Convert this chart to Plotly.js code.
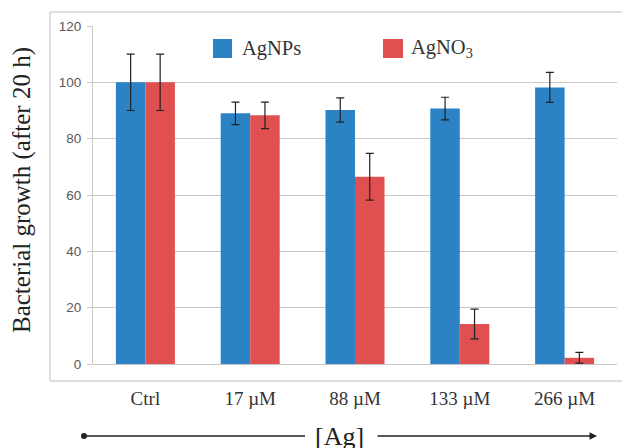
<!DOCTYPE html>
<html>
<head>
<meta charset="utf-8">
<script src="https://cdn.plot.ly/plotly-3.0.1.min.js"></script>
<style>html,body{margin:0;padding:0;background:#fff;}#chart{width:622px;height:448px;}</style>
</head>
<body>
<div id="chart"></div>
<script>
// ---- data ----
const categories = ["Ctrl", "17 µM", "88 µM", "133 µM", "266 µM"];
const agnpsValues = [100, 89, 90.2, 90.7, 98.2];
const agnpsErrors = [10, 4, 4.3, 4, 5.3];
const agno3Values = [100, 88.3, 66.5, 14.2, 2.2];
const agno3Errors = [10, 4.7, 8.3, 5.3, 1.9];
const seriesNames = ["AgNPs", "AgNO<sub>3</sub>"];
const yTickValues = [0, 20, 40, 60, 80, 100, 120];

// ---- layout helpers (pixel -> paper) ----
const L = 93, R = 5, T = 26, B = 84, W = 622, H = 448;
const PW = W - L - R, PH = H - T - B;
const px = x => (x - L) / PW;
const py = y => (H - B - y) / PH;

const BLUE = "#2B83C6", RED = "#E05050";
const serif = "'Liberation Serif', 'Times New Roman', serif";

const traces = [
  {type: "bar", name: seriesNames[0], x: categories, y: agnpsValues,
   marker: {color: BLUE},
   error_y: {type: "data", array: agnpsErrors, visible: true, color: "#222", thickness: 1.2, width: 4}},
  {type: "bar", name: seriesNames[1], x: categories, y: agno3Values,
   marker: {color: RED},
   error_y: {type: "data", array: agno3Errors, visible: true, color: "#222", thickness: 1.2, width: 4}}
];

const layout = {
  width: W, height: H,
  margin: {l: L, r: R, t: T, b: B, pad: 0},
  paper_bgcolor: "#fff", plot_bgcolor: "#fff",
  barmode: "group", bargap: 0.437, bargroupgap: 0,
  showlegend: false,
  xaxis: {
    type: "category", range: [-0.5, 4.5], showgrid: false, zeroline: false, showline: false,
    ticks: "", tickfont: {family: serif, size: 19, color: "#333"}, ticklabelstandoff: 21
  },
  yaxis: {
    range: [0, 120], tickvals: yTickValues, ticktext: yTickValues.map(String),
    showgrid: true, gridcolor: "#c8c8c8", gridwidth: 1,
    zeroline: true, zerolinecolor: "#c8c8c8", zerolinewidth: 1,
    showline: true, linecolor: "#c8c8c8", linewidth: 1,
    ticks: "outside", ticklen: 5, tickcolor: "#c8c8c8",
    tickfont: {family: "'Liberation Sans', Arial, sans-serif", size: 13.5, color: "#595959"},
    ticklabelstandoff: 3
  },
  shapes: [
    {type: "rect", xref: "paper", yref: "paper", x0: px(50), x1: px(640), y0: py(381), y1: py(12),
     line: {color: "#bdbdbd", width: 1}, fillcolor: "rgba(0,0,0,0)", layer: "below"},
    {type: "rect", xref: "paper", yref: "paper", x0: px(213), x1: px(232), y0: py(58), y1: py(39),
     line: {width: 0}, fillcolor: BLUE},
    {type: "rect", xref: "paper", yref: "paper", x0: px(383), x1: px(403), y0: py(58), y1: py(39),
     line: {width: 0}, fillcolor: RED},
    {type: "line", xref: "paper", yref: "paper", x0: px(84), x1: px(305), y0: py(436), y1: py(436),
     line: {color: "#222", width: 1.5}},
    {type: "circle", xref: "paper", yref: "paper", x0: px(81), x1: px(87), y0: py(439), y1: py(433),
     line: {width: 0}, fillcolor: "#222"}
  ],
  annotations: [
    {xref: "paper", yref: "paper", x: px(240), y: py(48), xanchor: "left", yanchor: "middle",
     text: seriesNames[0], showarrow: false, font: {family: serif, size: 20.5, color: "#333"}},
    {xref: "paper", yref: "paper", x: px(409), y: py(48), xanchor: "left", yanchor: "middle",
     text: seriesNames[1], showarrow: false, font: {family: serif, size: 20.5, color: "#333"}},
    {xref: "paper", yref: "paper", x: px(22), y: py(190), xanchor: "center", yanchor: "middle",
     text: "Bacterial growth (after 20 h)", textangle: -90, showarrow: false,
     font: {family: serif, size: 25, color: "#222"}},
    {xref: "paper", yref: "paper", x: px(339), y: py(436), xanchor: "center", yanchor: "middle",
     text: "[Ag]", showarrow: false, font: {family: serif, size: 26, color: "#222"}},
    {xref: "paper", yref: "paper", x: px(597), y: py(436), text: "", showarrow: true,
     ax: -(597 - 376), ay: 0, arrowhead: 2, arrowsize: 1, arrowwidth: 1.5, arrowcolor: "#222",
     standoff: 0, startstandoff: 0}
  ]
};

Plotly.newPlot("chart", traces, layout, {displayModeBar: false, staticPlot: true});
</script>
</body>
</html>
